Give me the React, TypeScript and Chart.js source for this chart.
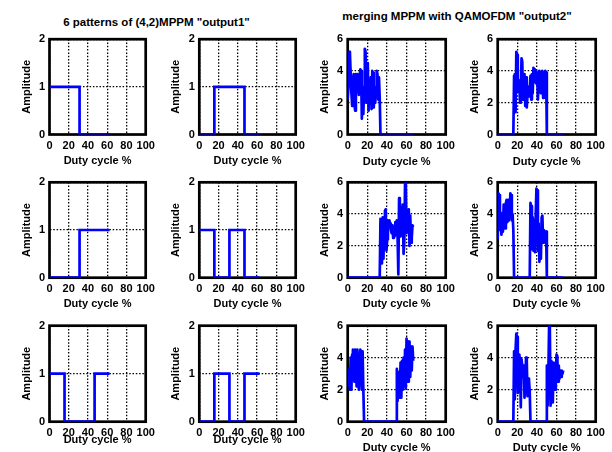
import { useEffect, useRef } from "react";
import { Chart, registerables } from "chart.js";

Chart.register(...registerables);

// ---- data ----------------------------------------------------------------

// Duty-cycle axis (percent)
const DUTY_MIN = 0;
const DUTY_MAX = 100;
const DUTY_STEP = 20;

// (4,2)MPPM: four slot boundaries over one symbol (percent of duty cycle)
const SLOT_EDGES = [0, 15.625, 31.25, 46.875, 62.5];

// Slot levels of the six (4,2)MPPM patterns
const PATTERN_1 = [1, 1, 0, 0];
const PATTERN_2 = [0, 1, 1, 0];
const PATTERN_3 = [0, 0, 1, 1];
const PATTERN_4 = [1, 0, 1, 0];
const PATTERN_5 = [1, 0, 0, 1];
const PATTERN_6 = [0, 1, 0, 1];

// QAM-OFDM samples merged into the MPPM slots, one sample every SAMPLE_STEP %
const SAMPLE_STEP = 0.76;

const MERGED_1 = [
  2.2, 3.0, 5.2, 5.1, 3.8, 2.6, 1.8, 3.3, 3.8, 2.0, 1.5,
  3.8, 2.7, 3.8, 3.2, 2.5, 3.6, 4.1, 4.0, 1.0, 2.4, 1.3,
  3.0, 5.4, 5.2, 2.0, 3.5, 4.5, 1.5, 3.3, 2.2, 3.6, 1.6,
  4.0, 3.9, 1.7, 2.9, 2.0, 3.0, 4.0, 3.8, 2.2, 3.6, 2.3,
  0, 0, 0, 0, 0, 0, 0, 0, 0, 0, 0,
  0, 0, 0, 0, 0, 0, 0, 0, 0, 0, 0,
  0, 0, 0, 0, 0, 0, 0, 0, 0, 0, 0,
  0, 0, 0, 0, 0, 0, 0, 0, 0, 0, 0,
  0,
];

const MERGED_2 = [
  0, 0, 0, 0, 0, 0, 0, 0, 0, 0, 0,
  0, 0, 0, 0, 0, 0, 0, 0, 0, 0, 0,
  3.7, 3.8, 1.4, 5.2, 5.0, 3.2, 2.7, 3.4, 2.0, 2.6, 4.8,
  4.6, 2.2, 3.0, 3.8, 1.8, 3.6, 1.7, 2.5, 3.0, 2.4, 2.8,
  3.7, 2.2, 3.8, 2.6, 4.2, 4.1, 3.3, 4.0, 3.2, 3.9, 2.2,
  3.4, 4.0, 3.9, 2.6, 3.5, 4.0, 2.3, 3.9, 2.8, 4.0, 3.9,
  0, 0, 0, 0, 0, 0, 0, 0, 0, 0, 0,
  0, 0, 0, 0, 0, 0, 0, 0, 0, 0, 0,
  0,
];

const MERGED_3 = [
  0, 0, 0, 0, 0, 0, 0, 0, 0, 0, 0,
  0, 0, 0, 0, 0, 0, 0, 0, 0, 0, 0,
  0, 0, 0, 0, 0, 0, 0, 0, 0, 0, 0,
  0, 0, 0, 0, 0, 0, 0, 0, 0, 0, 0,
  3.7, 3.6, 0.9, 3.8, 1.2, 3.5, 4.2, 4.3, 1.7, 2.4, 3.6,
  3.5, 3.6, 3.4, 3.0, 2.8, 3.3, 2.5, 3.2, 2.6, 3.5, 2.7,
  3.6, 2.5, 0.2, 5.0, 4.9, 2.6, 4.4, 2.9, 4.6, 1.5, 2.2,
  5.9, 6.0, 2.8, 3.6, 4.1, 4.3, 2.0, 3.9, 2.2, 2.5, 3.3,
  3.2,
];

const MERGED_4 = [
  2.4, 5.3, 5.2, 3.0, 4.1, 2.7, 3.4, 2.9, 4.6, 4.4, 3.1,
  4.7, 4.9, 3.5, 4.9, 3.6, 4.0, 5.3, 5.2, 3.6, 4.0, 3.0,
  0, 0, 0, 0, 0, 0, 0, 0, 0, 0, 0,
  0, 0, 0, 0, 0, 0, 0, 0, 0, 0, 0,
  4.7, 4.5, 1.8, 3.8, 1.7, 3.6, 1.6, 3.9, 5.6, 5.5, 1.7,
  3.4, 1.0, 2.6, 1.2, 3.8, 3.9, 2.2, 3.0, 2.9, 2.8, 2.9,
  0, 0, 0, 0, 0, 0, 0, 0, 0, 0, 0,
  0, 0, 0, 0, 0, 0, 0, 0, 0, 0, 0,
  0,
];

const MERGED_5 = [
  3.3, 3.2, 2.4, 2.0, 4.0, 2.0, 4.2, 4.5, 4.4, 2.5, 4.5,
  4.5, 2.2, 4.5, 3.4, 2.0, 3.3, 4.5, 4.4, 2.0, 4.4, 2.0,
  0, 0, 0, 0, 0, 0, 0, 0, 0, 0, 0,
  0, 0, 0, 0, 0, 0, 0, 0, 0, 0, 0,
  0, 0, 0, 0, 0, 0, 0, 0, 0, 0, 0,
  0, 0, 0, 0, 0, 0, 0, 0, 0, 0, 0,
  3.3, 1.3, 3.1, 1.5, 2.0, 3.7, 1.5, 3.8, 2.0, 4.0, 2.2,
  4.5, 2.1, 5.2, 2.5, 5.0, 2.5, 5.0, 2.8, 4.7, 3.2, 4.7,
  3.8,
];

const MERGED_6 = [
  0, 0, 0, 0, 0, 0, 0, 0, 0, 0, 0,
  0, 0, 0, 0, 0, 0, 0, 0, 0, 0, 0,
  4.4, 1.4, 4.5, 5.5, 5.3, 1.8, 4.2, 4.2, 3.8, 0.9, 3.9,
  3.5, 2.8, 3.5, 1.5, 2.3, 4.0, 3.9, 1.6, 2.7, 2.6, 1.9,
  0, 0, 0, 0, 0, 0, 0, 0, 0, 0, 0,
  0, 0, 0, 0, 0, 0, 0, 0, 0, 0, 0,
  3.5, 1.0, 2.9, 6.0, 5.9, 1.0, 3.8, 3.0, 1.2, 3.7, 3.6,
  2.0, 3.0, 4.2, 4.1, 2.5, 3.5, 2.7, 3.2, 2.8, 3.2, 3.0,
  3.2,
];

const TITLE_OUTPUT1 = '6 patterns of (4,2)MPPM "output1"';
const TITLE_OUTPUT2 = 'merging MPPM with QAMOFDM "output2"';
const X_LABEL = "Duty cycle %";
const Y_LABEL = "Amplitude";

// ---- layout ----------------------------------------------------------------

const FONT_FAMILY = '"Liberation Sans", Arial, Helvetica, sans-serif';
const BLUE = "#0000ff";

// plot-area boxes of the 3x4 grid (page pixels)
const COL_LEFT = [49.5, 199.3, 347.7, 497.7];
const COL_WIDTH = [96.2, 96.4, 98, 98];
const ROW_TOP = [39.2, 182.3, 325.7];
const ROW_HEIGHT = [95.3, 95.4, 96];

type PanelSpec = {
  kind: "pattern" | "merged";
  levels: number[];
  row: number;
  col: number;
  xTitleGap: number;
};

const PANELS: PanelSpec[] = [
  { kind: "pattern", levels: PATTERN_1, row: 0, col: 0, xTitleGap: 26.5 },
  { kind: "pattern", levels: PATTERN_2, row: 0, col: 1, xTitleGap: 26.5 },
  { kind: "merged", levels: MERGED_1, row: 0, col: 2, xTitleGap: 27 },
  { kind: "merged", levels: MERGED_2, row: 0, col: 3, xTitleGap: 27 },
  { kind: "pattern", levels: PATTERN_3, row: 1, col: 0, xTitleGap: 26.3 },
  { kind: "pattern", levels: PATTERN_4, row: 1, col: 1, xTitleGap: 26.3 },
  { kind: "merged", levels: MERGED_3, row: 1, col: 2, xTitleGap: 26.5 },
  { kind: "merged", levels: MERGED_4, row: 1, col: 3, xTitleGap: 26.5 },
  { kind: "pattern", levels: PATTERN_5, row: 2, col: 0, xTitleGap: 18 },
  { kind: "pattern", levels: PATTERN_6, row: 2, col: 1, xTitleGap: 18 },
  { kind: "merged", levels: MERGED_5, row: 2, col: 2, xTitleGap: 26.5 },
  { kind: "merged", levels: MERGED_6, row: 2, col: 3, xTitleGap: 26.5 },
];

// heavy black box around each plot area, drawn under the traces
const framePlugin = {
  id: "plotFrame",
  beforeDatasetsDraw(chart: any) {
    const { ctx, chartArea: a } = chart;
    ctx.save();
    ctx.strokeStyle = "#000";
    ctx.lineWidth = 2.7;
    ctx.strokeRect(a.left, a.top, a.right - a.left, a.bottom - a.top);
    ctx.restore();
  },
};

function Panel({ spec }: { spec: PanelSpec }) {
  const ref = useRef<HTMLCanvasElement | null>(null);

  const L = COL_LEFT[spec.col];
  const W = COL_WIDTH[spec.col];
  const T = ROW_TOP[spec.row];
  const H = ROW_HEIGHT[spec.row];

  const canvasLeft = Math.floor(L - 32);
  const canvasTop = Math.floor(T - 12);
  const yAxisWidth = L - canvasLeft;
  const padTop = T - canvasTop;
  const canvasWidth = Math.ceil(yAxisWidth + W + 18);
  const canvasHeight = Math.ceil(padTop + H + 36);
  const padRight = canvasWidth - yAxisWidth - W;
  const xAxisHeight = canvasHeight - padTop - H;

  useEffect(() => {
    if (!ref.current) return;

    const tickFont = { family: FONT_FAMILY, size: 11, weight: "bold" as const };
    const titleFont = { family: FONT_FAMILY, size: 11, weight: "bold" as const };
    const half = (11 * 1.2) / 2;

    const isPattern = spec.kind === "pattern";
    const points = isPattern
      ? SLOT_EDGES.map((x, i) => ({ x, y: spec.levels[Math.min(i, spec.levels.length - 1)] }))
      : spec.levels.map((y, i) => ({ x: i * SAMPLE_STEP, y }));

    const chart = new Chart(ref.current, {
      type: "line",
      data: {
        datasets: [
          {
            data: points,
            borderColor: BLUE,
            backgroundColor: BLUE,
            borderWidth: 2.7,
            pointRadius: 0,
            tension: 0,
            stepped: isPattern ? "before" : false,
            borderJoinStyle: isPattern ? "miter" : "round",
            fill: false,
          } as any,
        ],
      },
      options: {
        animation: false,
        responsive: false,
        devicePixelRatio: 1,
        events: [],
        layout: { padding: { left: 0, top: padTop, right: padRight, bottom: 0 } },
        plugins: {
          legend: { display: false },
          tooltip: { enabled: false },
        },
        scales: {
          x: {
            type: "linear",
            min: DUTY_MIN,
            max: DUTY_MAX,
            afterFit: (s: any) => {
              s.height = xAxisHeight;
            },
            ticks: {
              stepSize: DUTY_STEP,
              autoSkip: false,
              maxRotation: 0,
              minRotation: 0,
              padding: 11 - half,
              color: "#000",
              font: tickFont,
            },
            grid: { color: "#000", lineWidth: 1.3, drawTicks: false },
            border: { display: false, dash: [1.5, 1.8] },
            title: {
              display: true,
              text: X_LABEL,
              color: "#000",
              font: titleFont,
              padding: { top: 0, bottom: xAxisHeight - spec.xTitleGap - half },
            },
          },
          y: {
            type: "linear",
            min: 0,
            max: isPattern ? 2 : 6,
            afterFit: (s: any) => {
              s.width = yAxisWidth;
            },
            ticks: {
              stepSize: isPattern ? 1 : 2,
              autoSkip: false,
              padding: 4.5,
              color: "#000",
              font: tickFont,
            },
            grid: { color: "#000", lineWidth: 1.3, drawTicks: false },
            border: { display: false, dash: [1.5, 1.8] },
            title: {
              display: true,
              text: Y_LABEL,
              color: "#000",
              font: titleFont,
              padding: { top: Math.max(yAxisWidth - 23 - half, 0), bottom: 0 },
            },
          },
        },
      } as any,
      plugins: [framePlugin],
    });

    return () => chart.destroy();
  }, []);

  return (
    <canvas
      ref={ref}
      width={canvasWidth}
      height={canvasHeight}
      style={{ position: "absolute", left: canvasLeft, top: canvasTop, display: "block" }}
    />
  );
}

const headingStyle: React.CSSProperties = {
  position: "absolute",
  transform: "translateX(-50%)",
  whiteSpace: "nowrap",
  fontFamily: FONT_FAMILY,
  fontWeight: "bold",
  fontSize: "11.5px",
  lineHeight: "14px",
  color: "#000",
};

export default function App() {
  useEffect(() => {
    document.body.style.overflow = "hidden";
  }, []);

  return (
    <div
      style={{
        position: "absolute",
        left: 0,
        top: 0,
        width: 612,
        height: 452,
        overflow: "hidden",
        background: "#fff",
      }}
    >
      <div style={{ ...headingStyle, left: 156.5, top: 14.5 }}>{TITLE_OUTPUT1}</div>
      <div style={{ ...headingStyle, left: 457, top: 8.5 }}>{TITLE_OUTPUT2}</div>
      {PANELS.map((p, i) => (
        <Panel key={i} spec={p} />
      ))}
    </div>
  );
}
